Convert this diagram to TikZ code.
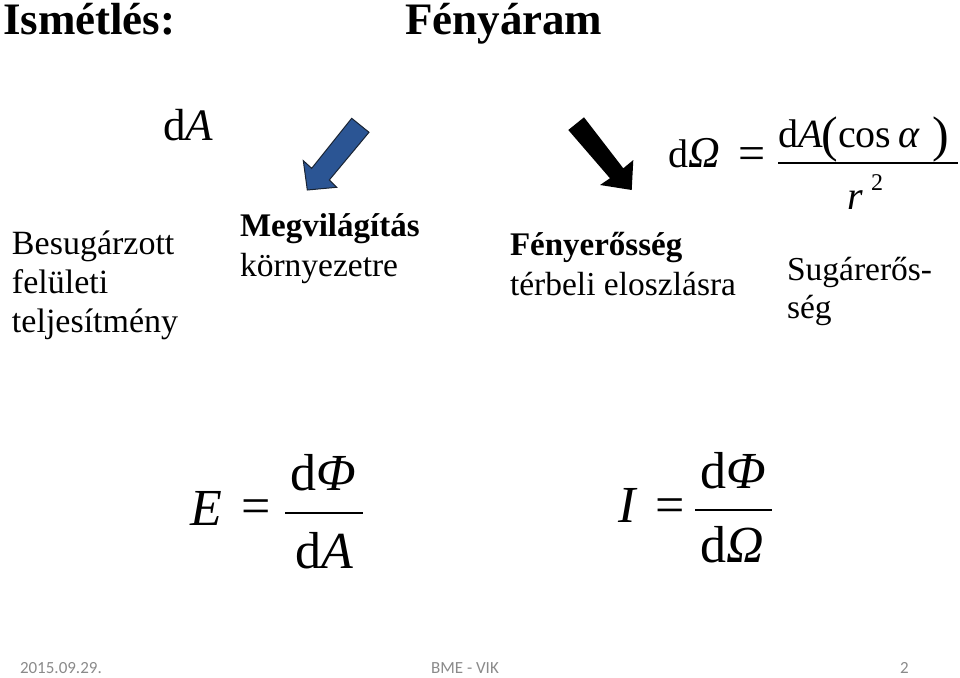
\documentclass[tikz,border=0pt]{standalone}
\usepackage{fontspec}
\setmainfont{Liberation Serif}
\newfontfamily\footfont{Carlito}
\definecolor{arrowblue}{HTML}{2B5594}
\definecolor{arrowedge}{HTML}{1A2433}
\definecolor{footgray}{HTML}{8A8A8A}
\newcommand{\fs}[1]{\fontsize{#1}{#1}\selectfont}
\tikzset{
  txt/.style={inner sep=0pt, outer sep=0pt, anchor=base west},
  title/.style={txt, font=\fs{45}\bfseries},
  bodyl/.style={txt, font=\fs{34}},
  body/.style={txt, font=\fs{33.5}},
  bodyb/.style={txt, font=\fs{33}\bfseries},
  mth/.style={txt, font=\fs{40}},
  mbig/.style={txt, font=\fs{52}},
  foot/.style={txt, font=\footfont\fs{17}, text=footgray},
  fracbar/.style={line width=1.6pt},
}
\begin{document}
\begin{tikzpicture}[x=1pt,y=-1pt]
\useasboundingbox (0,0) rectangle (960,677);
% titles
\node[title] (t1) at (3,35) {Ismétlés:};
\node[title] (t2) at (405,35) {Fényáram};
% dA
\node[txt, font=\fs{45}] (dA) at (163,140) {d\textit{A}};
% left text
\node[bodyl] (b1) at (12,254) {Besugárzott};
\node[bodyl] (b2) at (12,293) {felületi};
\node[bodyl] (b3) at (12,332) {teljesítmény};
% megvilagitas
\node[bodyb] (m1) at (240,236) {Megvilágítás};
\node[body] (m2) at (240,276) {környezetre};
% fenyerosseg
\node[bodyb] (f1) at (510,255) {Fényerősség};
\node[body] (f2) at (510,295) {térbeli eloszlásra};
% sugarerosseg
\node[body] (s1) at (787,280) {Sugárerős-};
\node[body] (s2) at (787,318) {ség};
% arrows
\fill[arrowblue, draw=arrowedge, line width=1pt, line join=miter]
  (351.7,118.3) -- (369,132.3) -- (329.3,180) -- (336.7,187.3) -- (307.3,190)
  -- (303.3,160.7) -- (311.7,168.3) -- cycle;
\fill[black]
  (568.3,130) -- (584,117.3) -- (623.3,168.3) -- (633.3,160) -- (631.7,190)
  -- (600,185) -- (610,178.3) -- cycle;
% solid angle formula
\node[mth] (om1) at (668,167) {d\kern0.5pt\textit{\fs{44}Ω}};
\node[txt, font=\fs{48}, anchor=center] (om2) at (752,159) {=};
\node[mth] (om3) at (778,147) {d\textit{A}\kern-1pt\raisebox{-0.1em}{\fs{50}(}cos\kern7pt\textit{α}\kern12pt\raisebox{-0.1em}{\fs{50})}};
\draw[fracbar] (778,163) -- (958,163);
\node[mth] (om4) at (847,209) {\textit{r}};
\node[txt, font=\fs{24}] (om5) at (871,190) {2};
% E formula
\node[mbig] (e1) at (190,525) {\textit{E}};
\node[txt, font=\fs{52}, anchor=center] (e2) at (256,512) {=};
\draw[fracbar] (285,513) -- (363,513);
\node[mbig] (e3) at (290,490) {d\textit{Φ}};
\node[mbig] (e4) at (295,568) {d\textit{A}};
% I formula
\node[mbig] (i1) at (618,522) {\textit{I}};
\node[txt, font=\fs{52}, anchor=center] (i2) at (670,511) {=};
\draw[fracbar] (695,510) -- (772,510);
\node[mbig] (i3) at (700,488) {d\textit{Φ}};
\node[mbig] (i4) at (700,562) {d\textit{Ω}};
% footer
\node[foot] (d1) at (20,673) {2015.09.29.};
\node[foot, anchor=base] (d2) at (465,673) {BME - VIK};
\node[foot] (d3) at (900,673) {2};
\end{tikzpicture}
\end{document}
